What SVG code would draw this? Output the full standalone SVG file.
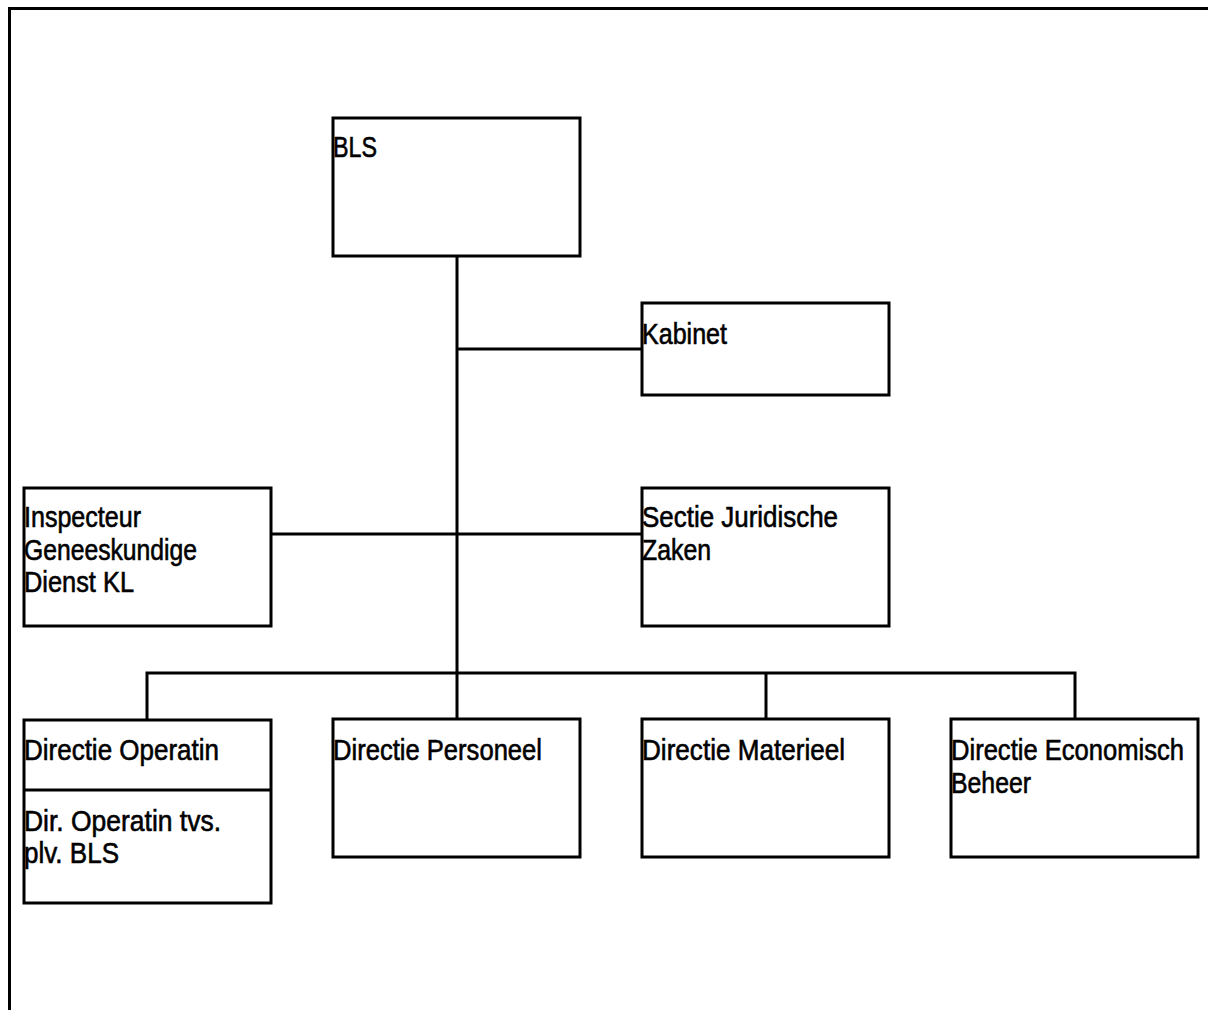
<svg xmlns="http://www.w3.org/2000/svg" width="1208" height="1010" viewBox="0 0 1208 1010">
<style>
.box{fill:#fff;stroke:#000;stroke-width:3}
.ln{fill:none;stroke:#000;stroke-width:3}
text{font-family:"Liberation Sans",Arial,sans-serif;font-size:29px;fill:#000;stroke:#000;stroke-width:0.6}
</style>
<rect width="1208" height="1010" fill="#fff"/>
<path class="ln" d="M9.5,1010 V8.5 H1208"/>
<g id="connectors">
<path class="ln" d="M457,256 V719"/>
<path class="ln" d="M457,349 H642"/>
<path class="ln" d="M271,534 H642"/>
<path class="ln" d="M147,720 V673 H1075 V719"/>
<path class="ln" d="M766,673 V719"/>
</g>
<g id="bls"><rect class="box" x="333" y="118" width="247" height="138"/><text x="333" y="157" textLength="44" lengthAdjust="spacingAndGlyphs">BLS</text></g>
<g id="kabinet"><rect class="box" x="642" y="303" width="247" height="92"/><text x="642" y="344" textLength="85" lengthAdjust="spacingAndGlyphs">Kabinet</text></g>
<g id="sectie"><rect class="box" x="642" y="488" width="247" height="138"/><text x="642" y="527" textLength="196" lengthAdjust="spacingAndGlyphs">Sectie Juridische</text><text x="642" y="559.5" textLength="69" lengthAdjust="spacingAndGlyphs">Zaken</text></g>
<g id="inspecteur"><rect class="box" x="24" y="488" width="247" height="138"/><text x="24" y="527" textLength="117" lengthAdjust="spacingAndGlyphs">Inspecteur</text><text x="24" y="559.5" textLength="173" lengthAdjust="spacingAndGlyphs">Geneeskundige</text><text x="24" y="592" textLength="110" lengthAdjust="spacingAndGlyphs">Dienst KL</text></g>
<g id="operatin"><rect class="box" x="24" y="720" width="247" height="183"/><path class="ln" d="M24,790 H271"/><text x="24" y="760" textLength="195" lengthAdjust="spacingAndGlyphs">Directie Operatin</text><text x="24" y="831" textLength="197" lengthAdjust="spacingAndGlyphs">Dir. Operatin tvs.</text><text x="24" y="863" textLength="95" lengthAdjust="spacingAndGlyphs">plv. BLS</text></g>
<g id="personeel"><rect class="box" x="333" y="719" width="247" height="138"/><text x="333" y="760" textLength="209" lengthAdjust="spacingAndGlyphs">Directie Personeel</text></g>
<g id="materieel"><rect class="box" x="642" y="719" width="247" height="138"/><text x="642" y="760" textLength="203" lengthAdjust="spacingAndGlyphs">Directie Materieel</text></g>
<g id="economisch"><rect class="box" x="951" y="719" width="247" height="138"/><text x="951" y="760" textLength="233" lengthAdjust="spacingAndGlyphs">Directie Economisch</text><text x="951" y="792.5" textLength="80" lengthAdjust="spacingAndGlyphs">Beheer</text></g>
</svg>
